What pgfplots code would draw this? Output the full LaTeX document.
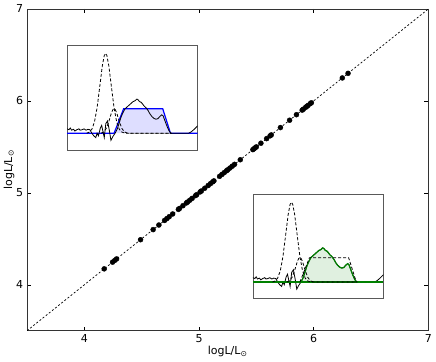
\documentclass[border=0pt]{standalone}
\usepackage{fontspec}
\setmainfont{DejaVu Sans}
\usepackage{pgfplots}
\usepackage{pgfplotstable}
\pgfplotsset{compat=1.18}
\definecolor{mgreen}{RGB}{0,128,0}
\pgfplotstableread{
x y
0 0.05
1.5 0.04
2.5 0.06
3.5 0.035
5 0.045
6 0.025
7.5 0.04
9 0.05
10 0.035
11.5 0.04
13 0.05
14.5 0.035
16 0.045
17.5 0.04
19 0.00
20.5 -0.03
22 -0.05
23 0.0
24 -0.03
25.5 0.06
26.5 0.09
27.5 0.02
28.5 -0.05
29.7 0.11
31 0.14
32.3 0.04
33.6 -0.08
35 -0.04
36.8 0.0
38.5 0.05
40 0.12
41.5 0.19
43 0.24
44.5 0.28
46 0.30
47.5 0.32
49 0.34
50.5 0.36
52 0.37
53.5 0.39
54.5 0.38
55.5 0.36
56.5 0.355
57.5 0.34
59 0.31
60.5 0.29
62 0.26
63.5 0.22
65 0.19
66.5 0.17
68 0.16
69.5 0.165
71 0.19
72.5 0.21
73.5 0.20
75 0.14
76.5 0.08
78 0.03
79.5 0.0
93 0.0
95 0.015
97 0.04
100 0.085
}\blackline
\pgfplotstableread{
x y
36.8 0.0
38.5 0.05
40 0.12
41.5 0.19
43 0.24
44.5 0.28
46 0.30
47.5 0.32
49 0.34
50.5 0.36
52 0.37
53.5 0.39
54.5 0.38
55.5 0.36
56.5 0.355
57.5 0.34
59 0.31
60.5 0.29
62 0.26
63.5 0.22
65 0.19
66.5 0.17
68 0.16
69.5 0.165
71 0.19
72.5 0.21
73.5 0.20
75 0.14
76.5 0.08
78 0.03
79.5 0.0
}\greenpart
\pgfplotstableread{
x y
15 0
17 0.013
19 0.046
21 0.129
23 0.290
25 0.526
27 0.768
28.5 0.886
29.5 0.91
30.5 0.886
32 0.768
34 0.526
36 0.290
38 0.129
40 0.046
42 0.013
44 0.003
46 0
80 0
}\bigpeak
\pgfplotstableread{
x y
26 0
28 0.015
30 0.054
32 0.134
34 0.233
35 0.267
36 0.28
37 0.267
38 0.233
40 0.134
42 0.054
44 0.015
46 0.003
48 0
80 0
}\smallpeak
\pgfplotstableread{
x y
36 0
43.3 0.278
73.3 0.278
79.2 0
}\trap
\pgfplotsset{
  inset/.style={scale only axis, width=130.7pt, height=104.5pt, anchor=south west,
    xmin=0, xmax=100, ymin=-0.19, ymax=1.0, xtick=\empty, ytick=\empty,
    axis line style={black!65, line width=0.7pt},
    axis background/.style={fill=white}},
  dsh/.style={black, line width=0.8pt, dash pattern=on 3pt off 2pt},
}
\begin{document}
\fontsize{11}{13}\selectfont
\begin{tikzpicture}
\begin{axis}[name=main, scale only axis, width=401.6pt, height=322pt,
  xmin=3.5, xmax=7, ymin=3.5, ymax=7,
  xtick={4,5,6,7}, ytick={4,5,6,7},
  tick align=inside, xtick pos=both, ytick pos=both, major tick length=4pt,
  /pgf/number format/assume math mode=true,
  tick label style={font=\fontsize{11}{13}\selectfont},
  label style={font=\fontsize{11}{13}\selectfont},
  xlabel={logL/L\textsubscript{⊙}}, ylabel={logL/L\textsubscript{⊙}},
  xlabel style={at={(axis description cs:0.5,-0.066)}, anchor=center},
  ylabel style={at={(axis description cs:-0.045,0.5)}, anchor=center},
  axis line style={black!80, line width=0.7pt},
  every tick/.style={black, line width=0.5pt},
]
\addplot[black, line width=0.7pt, dash pattern=on 2pt off 2pt] coordinates {(3.5,3.5) (7,7)};
\addplot[only marks, mark=*, mark size=2.5pt, black] coordinates {
(4.173,4.173) (4.246,4.246) (4.266,4.266) (4.281,4.281) (4.49,4.49) (4.60,4.60)
(4.65,4.65) (4.70,4.70) (4.72,4.72) (4.74,4.74) (4.77,4.77) (4.82,4.82) (4.83,4.83)
(4.86,4.86) (4.89,4.89) (4.90,4.90) (4.92,4.92) (4.94,4.94) (4.97,4.97) (4.98,4.98)
(5.01,5.01) (5.02,5.02) (5.05,5.05) (5.08,5.08) (5.10,5.10) (5.12,5.12) (5.13,5.13)
(5.18,5.18) (5.20,5.20) (5.22,5.22) (5.24,5.24) (5.25,5.25) (5.27,5.27) (5.29,5.29)
(5.31,5.31) (5.36,5.36) (5.47,5.47) (5.48,5.48) (5.49,5.49) (5.50,5.50) (5.54,5.54)
(5.59,5.59) (5.62,5.62) (5.63,5.63) (5.71,5.71) (5.79,5.79) (5.85,5.85) (5.90,5.90)
(5.91,5.91) (5.93,5.93) (5.94,5.94) (5.95,5.95) (5.97,5.97) (5.98,5.98) (6.25,6.25)
(6.30,6.30)};
\coordinate (insA) at (axis cs:3.849,5.467);
\coordinate (insB) at (axis cs:5.470,3.848);
\end{axis}
\path (main.south west) ++(-26.7pt,-31pt) rectangle ++(436pt,362pt);
\begin{axis}[inset, at={(insA)}]
\addplot[draw=none, fill=blue!13] table[x=x,y=y]{\trap} \closedcycle;
\addplot[blue, line width=1.2pt] coordinates {(0,0) (36,0) (43.3,0.278) (73.3,0.278) (79.2,0) (100,0)};
\addplot[black, line width=0.8pt] table[x=x,y=y]{\blackline};
\addplot[dsh] table[x=x,y=y]{\bigpeak};
\addplot[dsh] table[x=x,y=y]{\smallpeak};
\end{axis}
\begin{axis}[inset, at={(insB)}]
\addplot[draw=none, fill=mgreen!12] table[x=x,y=y]{\greenpart} \closedcycle;
\addplot[black, line width=0.8pt] table[x=x,y=y]{\blackline};
\addplot[mgreen, line width=1.2pt] coordinates {(0,0) (36.8,0) (100,0)};
\addplot[mgreen, line width=1.2pt] table[x=x,y=y]{\greenpart};
\addplot[dsh] table[x=x,y=y]{\bigpeak};
\addplot[dsh] table[x=x,y=y]{\smallpeak};
\addplot[dsh] table[x=x,y=y]{\trap};
\end{axis}
\end{tikzpicture}
\end{document}
